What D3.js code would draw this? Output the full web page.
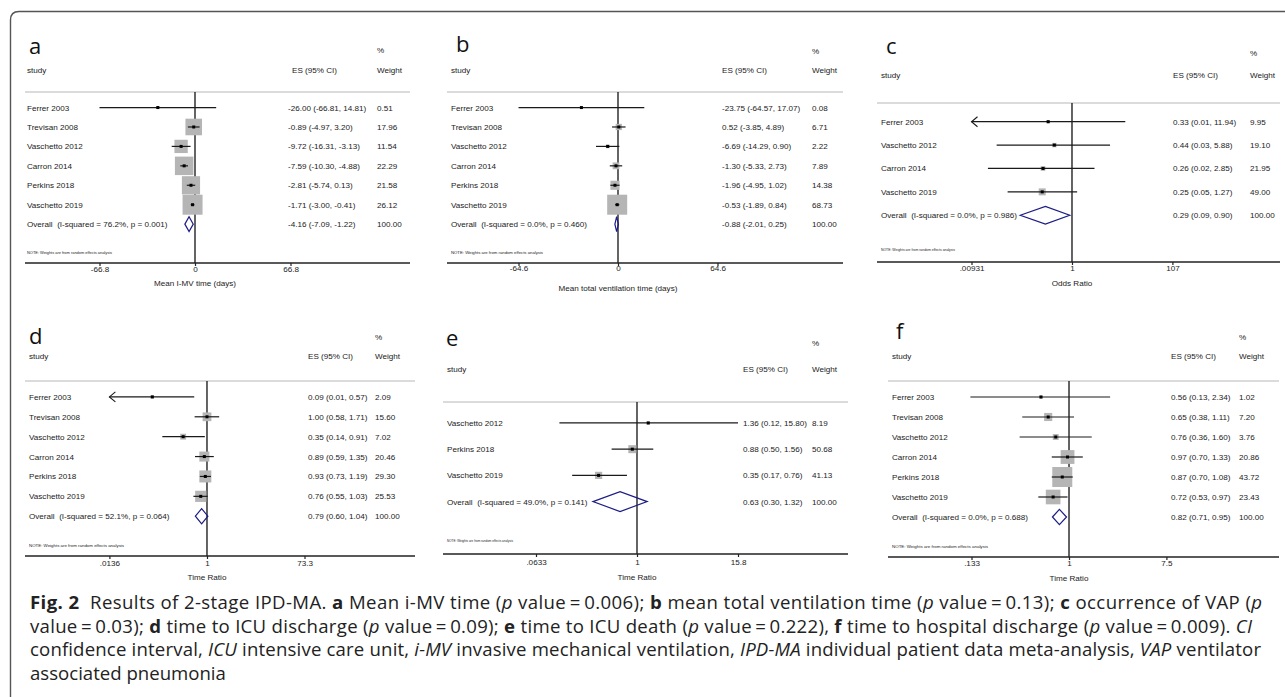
<!DOCTYPE html>
<html>
<head>
<meta charset="utf-8">
<script src="https://cdn.jsdelivr.net/npm/d3@7"></script>
<style>
  html, body { margin: 0; padding: 0; background: #fff; }
  svg { display: block; }
  text { white-space: pre; }
  .small { font-family: "Liberation Sans", Arial, sans-serif; font-size: 8.1px; fill: #222; }
  .letter { font-family: "Open Sans", sans-serif; font-size: 22px; fill: #111; }
  .caption { font-family: "Open Sans", sans-serif; font-size: 18.6px; fill: #222; }
</style>
</head>
<body>
<svg id="chart"></svg>
<script>
// ---- panel a : Mean I-MV time ----
const aStudies = ["Ferrer 2003", "Trevisan 2008", "Vaschetto 2012", "Carron 2014", "Perkins 2018", "Vaschetto 2019"];
const aES = [-26.00, -0.89, -9.72, -7.59, -2.81, -1.71];
const aLo = [-66.81, -4.97, -16.31, -10.30, -5.74, -3.00];
const aHi = [14.81, 3.20, -3.13, -4.88, 0.13, -0.41];
const aWeight = [0.51, 17.96, 11.54, 22.29, 21.58, 26.12];
const aCut = [0, 0, 0, 0, 0, 0]; // 1 = CI runs past the left end of the axis
const aOverall = [-4.16, -7.09, -1.22];
const aHet = "Overall  (I-squared = 76.2%, p = 0.001)";
const aTicks = [-66.8, 0, 66.8];
const aTickLabels = ["-66.8", "0", "66.8"];
const aTitle = "Mean I-MV time (days)";

// ---- panel b : Mean total ventilation time ----
const bStudies = ["Ferrer 2003", "Trevisan 2008", "Vaschetto 2012", "Carron 2014", "Perkins 2018", "Vaschetto 2019"];
const bES = [-23.75, 0.52, -6.69, -1.30, -1.96, -0.53];
const bLo = [-64.57, -3.85, -14.29, -5.33, -4.95, -1.89];
const bHi = [17.07, 4.89, 0.90, 2.73, 1.02, 0.84];
const bWeight = [0.08, 6.71, 2.22, 7.89, 14.38, 68.73];
const bCut = [0, 0, 0, 0, 0, 0];
const bOverall = [-0.88, -2.01, 0.25];
const bHet = "Overall  (I-squared = 0.0%, p = 0.460)";
const bTicks = [-64.6, 0, 64.6];
const bTickLabels = ["-64.6", "0", "64.6"];
const bTitle = "Mean total ventilation time (days)";

// ---- panel c : occurrence of VAP ----
const cStudies = ["Ferrer 2003", "Vaschetto 2012", "Carron 2014", "Vaschetto 2019"];
const cES = [0.33, 0.44, 0.26, 0.25];
const cLo = [0.01, 0.03, 0.02, 0.05];
const cHi = [11.94, 5.88, 2.85, 1.27];
const cWeight = [9.95, 19.10, 21.95, 49.00];
const cCut = [1, 0, 0, 0];
const cOverall = [0.29, 0.09, 0.90];
const cHet = "Overall  (I-squared = 0.0%, p = 0.986)";
const cTicks = [0.00931, 1, 107];
const cTickLabels = [".00931", "1", "107"];
const cTitle = "Odds Ratio";

// ---- panel d : time to ICU discharge ----
const dStudies = ["Ferrer 2003", "Trevisan 2008", "Vaschetto 2012", "Carron 2014", "Perkins 2018", "Vaschetto 2019"];
const dES = [0.09, 1.00, 0.35, 0.89, 0.93, 0.76];
const dLo = [0.01, 0.58, 0.14, 0.59, 0.73, 0.55];
const dHi = [0.57, 1.71, 0.91, 1.35, 1.19, 1.03];
const dWeight = [2.09, 15.60, 7.02, 20.46, 29.30, 25.53];
const dCut = [1, 0, 0, 0, 0, 0];
const dOverall = [0.79, 0.60, 1.04];
const dHet = "Overall  (I-squared = 52.1%, p = 0.064)";
const dTicks = [0.0136, 1, 73.3];
const dTickLabels = [".0136", "1", "73.3"];
const dTitle = "Time Ratio";

// ---- panel e : time to ICU death ----
const eStudies = ["Vaschetto 2012", "Perkins 2018", "Vaschetto 2019"];
const eES = [1.36, 0.88, 0.35];
const eLo = [0.12, 0.50, 0.17];
const eHi = [15.80, 1.56, 0.76];
const eWeight = [8.19, 50.68, 41.13];
const eCut = [0, 0, 0];
const eOverall = [0.63, 0.30, 1.32];
const eHet = "Overall  (I-squared = 49.0%, p = 0.141)";
const eTicks = [0.0633, 1, 15.8];
const eTickLabels = [".0633", "1", "15.8"];
const eTitle = "Time Ratio";

// ---- panel f : time to hospital discharge ----
const fStudies = ["Ferrer 2003", "Trevisan 2008", "Vaschetto 2012", "Carron 2014", "Perkins 2018", "Vaschetto 2019"];
const fES = [0.56, 0.65, 0.76, 0.97, 0.87, 0.72];
const fLo = [0.13, 0.38, 0.36, 0.70, 0.70, 0.53];
const fHi = [2.34, 1.11, 1.60, 1.33, 1.08, 0.97];
const fWeight = [1.02, 7.20, 3.76, 20.86, 43.72, 23.43];
const fCut = [0, 0, 0, 0, 0, 0];
const fOverall = [0.82, 0.71, 0.95];
const fHet = "Overall  (I-squared = 0.0%, p = 0.688)";
const fTicks = [0.133, 1, 7.5];
const fTickLabels = [".133", "1", "7.5"];
const fTitle = "Time Ratio";

const noteText = "NOTE: Weights are from random effects analysis";

const W = 1285, H = 697;
const svg = d3.select("#chart").attr("width", W).attr("height", H);

// outer frame (rounded top-left corner, runs off the picture)
svg.append("path")
  .attr("d", "M10.5,700 V20 Q10.5,11.5 19,11.5 H1290")
  .attr("fill", "none").attr("stroke", "#555").attr("stroke-width", 1.4);

// plain hyphen for negatives, like the original
const fmt = d3.formatLocale({ decimal: ".", thousands: ",", grouping: [3], currency: ["", ""], minus: "-" }).format(".2f");

// layout of each panel (pixels)
const panels = [
  { letter: "a", studies: aStudies, es: aES, lo: aLo, hi: aHi, w: aWeight, cut: aCut, overall: aOverall, het: aHet,
    ticks: aTicks, tickLabels: aTickLabels, title: aTitle, log: false,
    lx: 29, ly: 54, x0: 25, x1: 410, xStudy: 27, xES: 292, xESv: 288, xW: 377, yPct: 53, yHead: 73,
    yTop: 92, yAxis: 263, range: [99.5, 290.5], labDy: 12, titleDy: 23, maxBox: 20, noteLen: 85 },
  { letter: "b", studies: bStudies, es: bES, lo: bLo, hi: bHi, w: bWeight, cut: bCut, overall: bOverall, het: bHet,
    ticks: bTicks, tickLabels: bTickLabels, title: bTitle, log: false,
    lx: 456, ly: 52, x0: 447, x1: 843, xStudy: 451, xES: 722, xESv: 722, xW: 812, yPct: 54, yHead: 73,
    yTop: 92, yAxis: 263, range: [518.5, 717.5], labDy: 11, titleDy: 28, maxBox: 20, noteLen: 92 },
  { letter: "c", studies: cStudies, es: cES, lo: cLo, hi: cHi, w: cWeight, cut: cCut, overall: cOverall, het: cHet,
    ticks: cTicks, tickLabels: cTickLabels, title: cTitle, log: true,
    lx: 886, ly: 54, x0: 877, x1: 1280, xStudy: 881, xES: 1173, xESv: 1173, xW: 1250, yPct: 56, yHead: 78,
    yTop: 103, yAxis: 262, range: [971.5, 1172.4], labDy: 12, titleDy: 24, maxBox: 7, noteLen: 74 },
  { letter: "d", studies: dStudies, es: dES, lo: dLo, hi: dHi, w: dWeight, cut: dCut, overall: dOverall, het: dHet,
    ticks: dTicks, tickLabels: dTickLabels, title: dTitle, log: true,
    lx: 29, ly: 344, x0: 25, x1: 415, xStudy: 29, xES: 308, xESv: 308, xW: 375, yPct: 340, yHead: 359,
    yTop: 381, yAxis: 556, range: [109.4, 304.5], labDy: 13, titleDy: 24, maxBox: 12, noteLen: 95 },
  { letter: "e", studies: eStudies, es: eES, lo: eLo, hi: eHi, w: eWeight, cut: eCut, overall: eOverall, het: eHet,
    ticks: eTicks, tickLabels: eTickLabels, title: eTitle, log: true,
    lx: 446, ly: 346, x0: 443, x1: 848, xStudy: 447, xES: 743, xESv: 743, xW: 812, yPct: 346, yHead: 372,
    yTop: 402, yAxis: 554, range: [536, 738], labDy: 14, titleDy: 26, maxBox: 8, noteLen: 66 },
  { letter: "f", studies: fStudies, es: fES, lo: fLo, hi: fHi, w: fWeight, cut: fCut, overall: fOverall, het: fHet,
    ticks: fTicks, tickLabels: fTickLabels, title: fTitle, log: true,
    lx: 896, ly: 339, x0: 888, x1: 1279, xStudy: 892, xES: 1171, xESv: 1171, xW: 1239, yPct: 340, yHead: 359,
    yTop: 381, yAxis: 557, range: [971.5, 1166.4], labDy: 12, titleDy: 24, maxBox: 20, noteLen: 96 }
];

panels.forEach(drawPanel);

function drawPanel(p) {
  const g = svg.append("g");
  const n = p.studies.length + 1; // studies + overall row

  const x = (p.log ? d3.scaleLog() : d3.scaleLinear())
    .domain([p.ticks[0], p.ticks[2]])
    .range(p.range);
  const y = d3.scaleLinear().domain([0, n + 1.8]).range([p.yTop, p.yAxis]);
  const rowY = (i) => y(i + 0.8);
  const step = y(1) - y(0);
  const maxW = d3.max(p.w);
  const nullX = p.log ? x(1) : x(0);
  const side = (d) => p.maxBox * Math.sqrt(d.w / maxW);

  // panel letter and headers
  g.append("text").attr("class", "letter").attr("x", p.lx).attr("y", p.ly).text(p.letter);
  g.append("text").attr("class", "small").attr("x", p.xW).attr("y", p.yPct).text("%");
  g.append("text").attr("class", "small").attr("x", p.xStudy).attr("y", p.yHead).text("study");
  g.append("text").attr("class", "small").attr("x", p.xES).attr("y", p.yHead).text("ES (95% CI)");
  g.append("text").attr("class", "small").attr("x", p.xW).attr("y", p.yHead).text("Weight");

  // grey separator under the header
  g.append("line")
    .attr("x1", p.x0).attr("x2", p.x1).attr("y1", p.yTop).attr("y2", p.yTop)
    .attr("stroke", "#cfcfcf").attr("stroke-width", 1.5);

  // no-effect line
  g.append("line")
    .attr("x1", nullX).attr("x2", nullX).attr("y1", p.yTop).attr("y2", p.yAxis)
    .attr("stroke", "#111").attr("stroke-width", 1.3);

  const rows = p.studies.map((s, i) => ({ s, i, es: p.es[i], lo: p.lo[i], hi: p.hi[i], w: p.w[i], cut: p.cut[i] }));

  // weight boxes
  g.selectAll("rect.box").data(rows).enter().append("rect")
    .attr("class", "box")
    .attr("x", (d) => x(d.es) - side(d) / 2)
    .attr("y", (d) => rowY(d.i) - side(d) / 2)
    .attr("width", side)
    .attr("height", side)
    .attr("fill", "#b5b5b5");

  // confidence intervals (cut at the axis end with an open arrow)
  const xmin = p.ticks[0];
  g.selectAll("line.ci").data(rows).enter().append("line")
    .attr("class", "ci")
    .attr("x1", (d) => (d.cut ? x(xmin) : x(d.lo)))
    .attr("x2", (d) => x(d.hi))
    .attr("y1", (d) => rowY(d.i)).attr("y2", (d) => rowY(d.i))
    .attr("stroke", "#1a1a1a").attr("stroke-width", 1.2);

  g.selectAll("path.arrow").data(rows.filter((d) => d.cut)).enter().append("path")
    .attr("class", "arrow")
    .attr("d", (d) => {
      const ax = x(xmin), ay = rowY(d.i);
      return `M${ax + 6},${ay - 5} L${ax},${ay} L${ax + 6},${ay + 5}`;
    })
    .attr("fill", "none").attr("stroke", "#1a1a1a").attr("stroke-width", 1.1);

  // point estimates
  g.selectAll("rect.pt").data(rows).enter().append("rect")
    .attr("class", "pt")
    .attr("x", (d) => x(d.es) - 1.5).attr("y", (d) => rowY(d.i) - 1.5)
    .attr("width", 3).attr("height", 3).attr("fill", "#000");

  // study labels, estimates and weights
  g.selectAll("text.study").data(rows).enter().append("text")
    .attr("class", "small").attr("x", p.xStudy).attr("y", (d) => rowY(d.i) + 3).text((d) => d.s);
  g.selectAll("text.es").data(rows).enter().append("text")
    .attr("class", "small").attr("x", p.xESv).attr("y", (d) => rowY(d.i) + 3)
    .text((d) => `${fmt(d.es)} (${fmt(d.lo)}, ${fmt(d.hi)})`);
  g.selectAll("text.wt").data(rows).enter().append("text")
    .attr("class", "small").attr("x", p.xW).attr("y", (d) => rowY(d.i) + 3).text((d) => fmt(d.w));

  // overall diamond
  const oi = n - 1, oy = rowY(oi), hh = step * 0.38;
  const [oes, olo, ohi] = p.overall;
  g.append("path")
    .attr("d", `M${x(olo)},${oy} L${x(oes)},${oy - hh} L${x(ohi)},${oy} L${x(oes)},${oy + hh} Z`)
    .attr("fill", "none").attr("stroke", "#1c1c86").attr("stroke-width", 1.2);
  g.append("text").attr("class", "small").attr("x", p.xStudy).attr("y", oy + 3).text(p.het);
  g.append("text").attr("class", "small").attr("x", p.xESv).attr("y", oy + 3)
    .text(`${fmt(oes)} (${fmt(olo)}, ${fmt(ohi)})`);
  g.append("text").attr("class", "small").attr("x", p.xW).attr("y", oy + 3).text(fmt(100));

  // note
  g.append("text").attr("class", "small")
    .attr("x", p.xStudy).attr("y", y(n + 1.3) + 1)
    .style("font-size", "3.5px")
    .attr("textLength", p.noteLen).attr("lengthAdjust", "spacingAndGlyphs")
    .text(noteText);

  // x axis
  g.append("line")
    .attr("x1", p.x0).attr("x2", p.x1).attr("y1", p.yAxis).attr("y2", p.yAxis)
    .attr("stroke", "#222").attr("stroke-width", 1.6);
  const axis = d3.axisBottom(x).tickValues(p.ticks)
    .tickFormat((d, i) => p.tickLabels[i]).tickSize(3).tickSizeOuter(0);
  const ag = g.append("g").attr("transform", `translate(0,${p.yAxis})`).call(axis);
  ag.select(".domain").remove();
  ag.selectAll(".tick line").attr("stroke", "#222").attr("stroke-width", 1.2);
  ag.selectAll(".tick text")
    .attr("y", p.labDy - 3).attr("dy", 0)
    .attr("font-family", "Liberation Sans, Arial, sans-serif").attr("font-size", "8.1px").attr("fill", "#222");
  g.append("text").attr("class", "small")
    .attr("x", nullX).attr("y", p.yAxis + p.titleDy)
    .attr("text-anchor", "middle").text(p.title);
}

// ---- caption ----
const captionLines = [
  [["b", "Fig. 2"], ["r", "  Results of 2-stage IPD-MA. "], ["b", "a"], ["r", " Mean i-MV time ("], ["i", "p"],
   ["r", " value\u2009=\u20090.006); "], ["b", "b"], ["r", " mean total ventilation time ("], ["i", "p"],
   ["r", " value\u2009=\u20090.13); "], ["b", "c"], ["r", " occurrence of VAP ("], ["i", "p"]],
  [["r", "value\u2009=\u20090.03); "], ["b", "d"], ["r", " time to ICU discharge ("], ["i", "p"],
   ["r", " value\u2009=\u20090.09); "], ["b", "e"], ["r", " time to ICU death ("], ["i", "p"],
   ["r", " value\u2009=\u20090.222), "], ["b", "f"], ["r", " time to hospital discharge ("], ["i", "p"],
   ["r", " value\u2009=\u20090.009). "], ["i", "CI"]],
  [["r", "confidence interval, "], ["i", "ICU"], ["r", " intensive care unit, "], ["i", "i-MV"],
   ["r", " invasive mechanical ventilation, "], ["i", "IPD-MA"], ["r", " individual patient data meta-analysis, "],
   ["i", "VAP"], ["r", " ventilator"]],
  [["r", "associated pneumonia"]]
];
const captionY = [609, 633, 656, 680];
const captionEnd = [1262, 1252, 1261, null]; // right end of each justified line

captionLines.forEach((parts, li) => {
  const t = svg.append("text").attr("class", "caption")
    .attr("x", 30).attr("y", captionY[li]);
  parts.forEach(([k, s]) => {
    const ts = t.append("tspan").text(s);
    if (k === "b") ts.attr("font-weight", "bold");
    if (k === "i") ts.attr("font-style", "italic");
  });
  if (captionEnd[li]) t.attr("textLength", captionEnd[li] - 30).attr("lengthAdjust", "spacing");
});
</script>
</body>
</html>
